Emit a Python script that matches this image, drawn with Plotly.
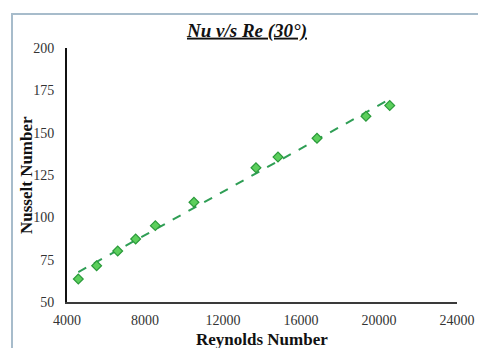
import numpy as np
import plotly.graph_objects as go

# Measured Reynolds numbers and Nusselt numbers (30° configuration)
reynolds = [4580, 5520, 6600, 7520, 8530, 10510, 13690, 14820, 16820, 19330, 20550]
nusselt = [63.6, 71.4, 80.1, 87.2, 95.1, 108.9, 129.3, 135.6, 146.7, 159.7, 166.0]

x_ticks = [4000, 8000, 12000, 16000, 20000, 24000]
y_ticks = [50, 75, 100, 125, 150, 175, 200]

# Linear trendline through the measurements
slope, intercept = np.polyfit(reynolds, nusselt, 1)
trend_x = [min(reynolds), max(reynolds)]
trend_y = [slope * v + intercept for v in trend_x]

W, H = 478, 348
ML, MR, MT, MB = 67, 21, 48, 46
PW, PH = W - ML - MR, H - MT - MB

serif = "Liberation Serif, Times New Roman, serif"

fig = go.Figure()
fig.add_trace(go.Scatter(
    x=trend_x, y=trend_y, mode="lines",
    line=dict(color="#2f9e55", width=2, dash="dash"),
    hoverinfo="skip", showlegend=False,
))
fig.add_trace(go.Scatter(
    x=reynolds, y=nusselt, mode="markers",
    marker=dict(symbol="diamond", size=7.5, color="#5ccf5c",
                line=dict(color="#2a9a3a", width=1.2)),
    showlegend=False,
))


def px_x(p):
    return (p - ML) / PW


def px_y(p):
    return (H - MB - p) / PH


# Outer chart frame
fig.add_shape(type="rect", xref="paper", yref="paper",
              x0=px_x(12), x1=px_x(495), y0=px_y(365), y1=px_y(14),
              line=dict(color="#a7bccb", width=2), fillcolor="rgba(0,0,0,0)",
              layer="below")

# Axis titles
fig.add_annotation(text="<b>Reynolds Number</b>", xref="paper", yref="paper",
                   x=px_x(262), y=px_y(339), xanchor="center", yanchor="middle",
                   showarrow=False, font=dict(family=serif, size=17, color="#111"))
fig.add_annotation(text="<b>Nusselt Number</b>", xref="paper", yref="paper",
                   x=px_x(26), y=px_y(175), xanchor="center", yanchor="middle",
                   textangle=-90, showarrow=False,
                   font=dict(family=serif, size=17, color="#111"))

fig.update_layout(
    width=W, height=H,
    margin=dict(l=ML, r=MR, t=MT, b=MB, autoexpand=False),
    paper_bgcolor="white", plot_bgcolor="white",
    title=dict(
        text="<b><i><u>Nu v/s Re (30°)</u></i></b>",
        x=247 / W, xanchor="center", y=1 - 30 / H, yanchor="middle",
        xref="container", yref="container",
        font=dict(family=serif, size=19, color="#111"),
    ),
    xaxis=dict(
        range=[4000, 24000], tickvals=x_ticks,
        ticktext=[str(v) for v in x_ticks],
        showgrid=False, zeroline=False,
        showline=True, linecolor="#3a3a3a", linewidth=2,
        ticks="outside", ticklen=4, tickcolor="rgba(0,0,0,0)",
        tickfont=dict(family=serif, size=14, color="#333"),
    ),
    yaxis=dict(
        range=[50, 200], tickvals=y_ticks,
        showgrid=False, zeroline=False,
        showline=True, linecolor="#111", linewidth=2,
        ticks="outside", ticklen=8, tickcolor="rgba(0,0,0,0)",
        tickfont=dict(family=serif, size=14, color="#333"),
    ),
)

fig.write_html("out.html")
